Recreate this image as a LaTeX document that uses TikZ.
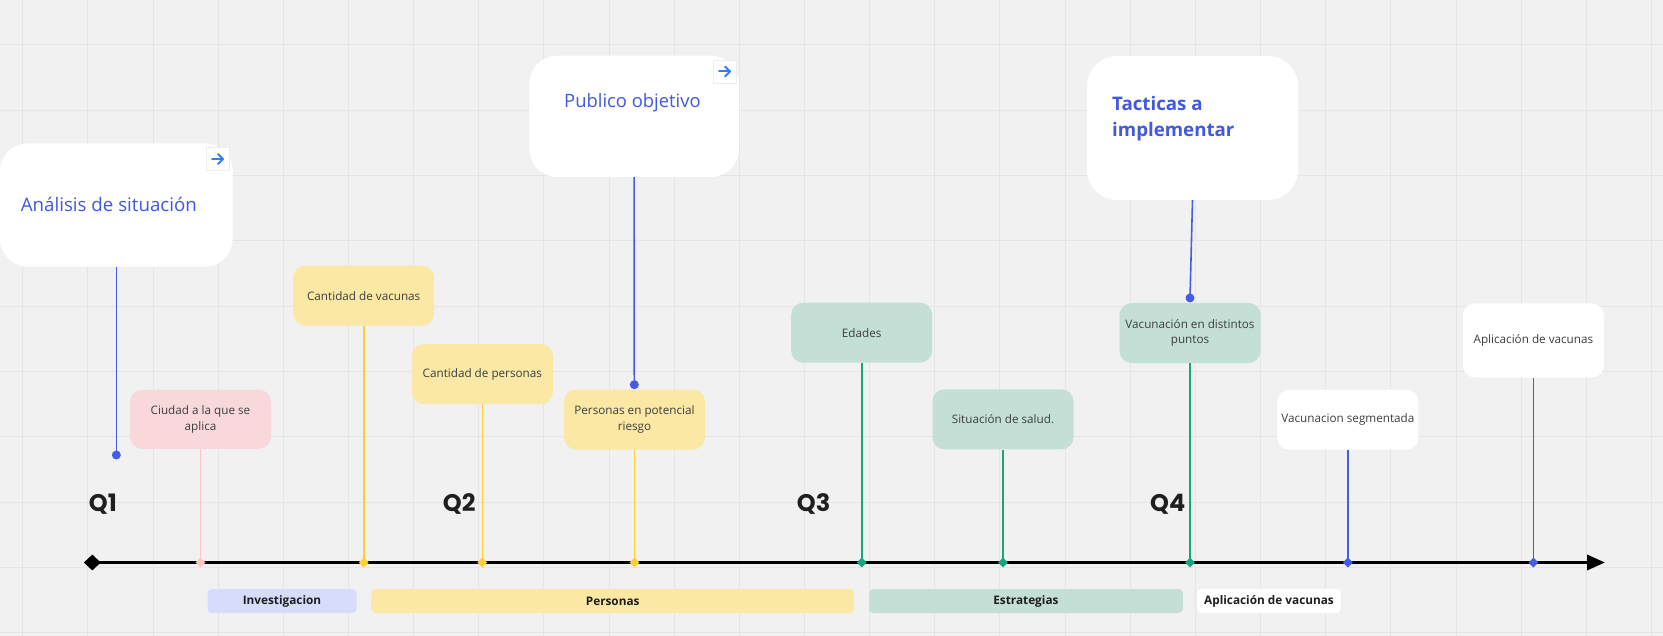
\documentclass[tikz,border=0pt]{standalone}
\usepackage{fontspec}
\setmainfont{Open Sans}
\newfontfamily\qfont{Poppins}
\usetikzlibrary{arrows.meta,shapes.geometric}
\definecolor{bg}{RGB}{241,241,241}
\definecolor{gridc}{RGB}{229,229,229}
\definecolor{titleblue}{RGB}{66,88,224}
\definecolor{lineblue}{RGB}{70,92,230}
\definecolor{iconblue}{RGB}{45,127,249}
\definecolor{yelbox}{RGB}{250,232,164}
\definecolor{yelline}{RGB}{255,206,50}
\definecolor{grnbox}{RGB}{196,223,214}
\definecolor{grnline}{RGB}{22,165,125}
\definecolor{pinkbox}{RGB}{248,216,218}
\definecolor{pinkline}{RGB}{255,196,196}
\definecolor{lavbar}{RGB}{214,220,250}
\definecolor{txtgray}{RGB}{62,62,62}
\definecolor{bartxt}{RGB}{30,30,30}
\begin{document}
\begin{tikzpicture}[x=1pt,y=-1pt,
  bigbox/.style={fill=white, rounded corners=28pt, inner sep=0pt},
  titletext/.style={anchor=base west, inner sep=0pt, text=titleblue, font=\fontsize{18.7}{24}\selectfont},
  card/.style={rounded corners=12pt, inner sep=0pt, minimum width=141pt, minimum height=60pt, align=center, text=txtgray, font=\fontsize{11.7}{15.7}\selectfont},
  conn/.style={line width=1.6pt},
  mk/.style={diamond, inner sep=0pt, minimum width=10pt, minimum height=10pt},
  dotnode/.style={circle, fill=lineblue, inner sep=0pt, minimum size=9pt},
  iconbox/.style={fill=white, draw=black!7, minimum size=23pt, inner sep=0pt},
  iconarrow/.style={iconblue, line width=2pt, line cap=round, line join=round},
  qlab/.style={anchor=base west, inner sep=0pt, text=black!88, font={\qfont\bfseries\fontsize{24}{26}\selectfont}},
  bar/.style={rounded corners=4pt, inner sep=0pt, minimum height=24pt, text=bartxt, font=\bfseries\fontsize{11.8}{14}\selectfont}
]
\useasboundingbox (0,0) rectangle (1663,636);
\fill[bg] (0,0) rectangle (1663,636);
% grid
\foreach \i in {0,...,25} \draw[gridc, line width=1pt] ({22.7+65.15*\i},0) -- ({22.7+65.15*\i},636);
\foreach \j in {0,...,9} \draw[gridc, line width=1pt] (0,{45+65.3*\j}) -- (1663,{45+65.3*\j});

% axis marker positions
\coordinate (m1) at (200.5,562.5);
\coordinate (m2) at (363.7,562.5);
\coordinate (m3) at (482.3,562.5);
\coordinate (m4) at (634.5,562.5);
\coordinate (m5) at (861.7,562.5);
\coordinate (m6) at (1003,562.5);
\coordinate (m7) at (1190,562.5);
\coordinate (m8) at (1347.9,562.5);
\coordinate (m9) at (1533.4,562.5);
\coordinate (axend) at (1605,562.5);

% big title boxes
\node[bigbox, minimum width=232.7pt, minimum height=123.4pt] (anal) at (116.35,205) {};
\node[bigbox, minimum width=209.7pt, minimum height=121.3pt] (pub) at (634.15,116.35) {};
\node[bigbox, rounded corners=30pt, minimum width=211pt, minimum height=144pt] (tac) at (1192.5,128) {};
\node[titletext] (analt) at (20.7,211.7) {Análisis de situación};
\node[titletext, font=\fontsize{18.4}{24}\selectfont] (pubt) at (564,108) {Publico objetivo};
\node[titletext, font=\bfseries\fontsize{18.7}{24}\selectfont] (tact1) at (1112,111) {Tacticas a};
\node[titletext, font=\bfseries\fontsize{18.7}{24}\selectfont] (tact2) at (1112,136.7) {implementar};

% icons with arrows
\node[iconbox] (ic1) at (217.5,159) {};
\node[iconbox] (ic2) at (724.5,71.5) {};
\foreach \ic in {ic1,ic2} {
  \draw[iconarrow] ([xshift=-5.5pt]\ic.center) -- ([xshift=5.5pt]\ic.center);
  \draw[iconarrow] ([xshift=0.5pt,yshift=-5pt]\ic.center) -- ([xshift=5.5pt]\ic.center) -- ([xshift=0.5pt,yshift=5pt]\ic.center);
}

% cards
\node[card, fill=pinkbox, minimum height=59pt] (ciudad) at (200.5,419.3) {Ciudad a la que se\\aplica};
\node[card, fill=yelbox] (cvac) at (363.7,295.7) {Cantidad de vacunas};
\node[card, fill=yelbox] (cper) at (482.3,374.2) {Cantidad de personas};
\node[card, fill=yelbox] (priesgo) at (634.5,419.5) {Personas en potencial\\riesgo};
\node[card, fill=grnbox] (edades) at (861.7,332.7) {Edades};
\node[card, fill=grnbox] (salud) at (1003,419.3) {Situación de salud.};
\node[card, fill=grnbox] (vdist) at (1190,333) {Vacunación en distintos\\puntos};
\node[card, fill=white] (vseg) at (1347.9,419.7) {Vacunacion segmentada};
\node[card, fill=white, minimum height=74pt] (aplic) at (1533.4,340.5) {Aplicación de vacunas};

% dots
\node[dotnode] (dA) at (116.35,455) {};
\node[dotnode] (dP) at (634.3,384.7) {};
\node[dotnode] (dT) at (1190,298) {};
\draw[conn, lineblue] (anal.south) -- (dA.center);
\draw[conn, lineblue] (pub.south) -- (dP.center);
\draw[conn, lineblue] (tac.south) -- (dT.center);

% connectors to axis
\draw[conn, pinkline] (ciudad.south) -- (m1);
\draw[conn, yelline] (cvac.south) -- (m2);
\draw[conn, yelline] (cper.south) -- (m3);
\draw[conn, yelline] (priesgo.south) -- (m4);
\draw[conn, grnline] (edades.south) -- (m5);
\draw[conn, grnline] (salud.south) -- (m6);
\draw[conn, grnline] (vdist.south) -- (m7);
\draw[conn, lineblue] (vseg.south) -- (m8);
\draw[conn, lineblue] (aplic.south) -- (m9);

% axis
\node[diamond, fill=black, inner sep=0pt, minimum width=17pt, minimum height=16pt] (start) at (92.3,562.5) {};
\draw[line width=3.5pt, -{Triangle[length=18pt,width=15pt]}] (start.center) -- (axend);
\node[mk, fill=pinkline] (k1) at (m1) {};
\node[mk, fill=yelline] (k2) at (m2) {};
\node[mk, fill=yelline] (k3) at (m3) {};
\node[mk, fill=yelline] (k4) at (m4) {};
\node[mk, fill=grnline] (k5) at (m5) {};
\node[mk, fill=grnline] (k6) at (m6) {};
\node[mk, fill=grnline] (k7) at (m7) {};
\node[mk, fill=lineblue] (k8) at (m8) {};
\node[mk, fill=lineblue] (k9) at (m9) {};

% quarter labels
\node[qlab] (q1) at (88.7,511) {Q1};
\node[qlab] (q2) at (442.7,511) {Q2};
\node[qlab] (q3) at (796.7,511) {Q3};
\node[qlab] (q4) at (1150,511) {Q4};

% bars
\node[bar, fill=lavbar, minimum width=149pt] (b1) at (282,601) {Investigacion};
\node[bar, fill=yelbox, minimum width=482.6pt] (b2) at (612.7,601) {Personas};
\node[bar, fill=grnbox, minimum width=313.7pt] (b3) at (1025.9,601) {Estrategias};
\node[bar, fill=white, minimum width=143.4pt] (b4) at (1269,601) {Aplicación de vacunas};
\end{tikzpicture}
\end{document}
